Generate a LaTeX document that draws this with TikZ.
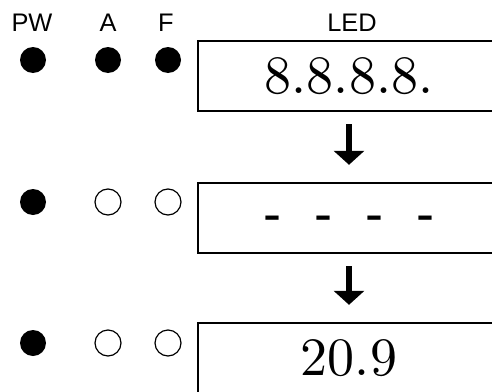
\documentclass[tikz,border=0pt]{standalone}
\usepackage{fontspec}
\setsansfont{Liberation Sans}
\newfontfamily\ledfont{lmroman10-regular.otf}
\usetikzlibrary{positioning, arrows.meta}

\newcommand{\dashgap}{\hspace{16.6pt}}

\begin{document}
\begin{tikzpicture}[
    x=0.5pt, y=-0.5pt,
    lamplabel/.style={font=\sffamily\fontsize{12.7}{15}\selectfont, inner sep=0pt},
    lampon/.style={circle, fill=black, minimum size=13pt, inner sep=0pt},
    lampoff/.style={circle, draw=black, line width=0.6pt, minimum size=13pt, inner sep=0pt},
    ledbox/.style={draw, line width=1.2pt, minimum width=151pt, minimum height=35pt, inner sep=0pt, font=\ledfont\fontsize{27}{30}\selectfont},
    dashbox/.style={ledbox, font=\sffamily\fontsize{27}{30}\selectfont, text height=18pt, text depth=3.4pt},
    flow/.style={-{Triangle[width=15pt, length=7pt]}, line width=3pt, shorten <=6pt, shorten >=8.5pt}
]
\useasboundingbox (0,0) rectangle (492,391);

% --- 标题 ---
\node[lamplabel] (pw) at (32,23) {PW};
\node[lamplabel] (a) at (108,23) {A};
\node[lamplabel] (f) at (166,23) {F};
\node[lamplabel] (led) at (352,23) {LED};

% --- 第一行：全亮 ---
\node[lampon] (pw1) at (33,60) {};
\node[lampon] (a1) at (108,60) {};
\node[lampon] (f1) at (168,60) {};
\node[ledbox] (disp1) at (349,76) {8.8.8.8.};

% --- 第二行 ---
\node[lampon] (pw2) at (33,202) {};
\node[lampoff] (a2) at (108,202) {};
\node[lampoff] (f2) at (168,202) {};
\node[dashbox] (disp2) at (349,218) {-\dashgap-\dashgap-\dashgap-};

% --- 第三行 ---
\node[lampon] (pw3) at (33,343) {};
\node[lampoff] (a3) at (108,343) {};
\node[lampoff] (f3) at (168,343) {};
\node[ledbox] (disp3) at (349,358) {20.9};

% --- 箭头 ---
\draw[flow] (disp1.south) -- (disp2.north);
\draw[flow] (disp2.south) -- (disp3.north);

\end{tikzpicture}
\end{document}
